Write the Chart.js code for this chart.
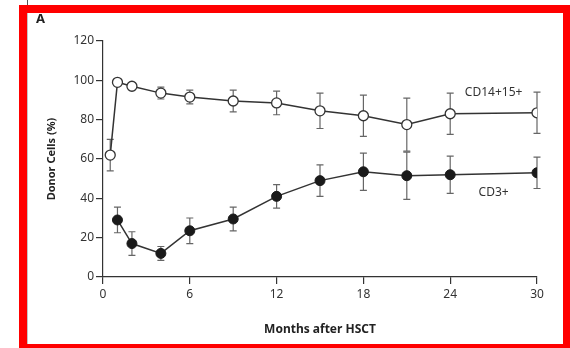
<!DOCTYPE html>
<html>
<head>
<meta charset="utf-8">
<script src="https://cdn.jsdelivr.net/npm/chart.js@4.4.1/dist/chart.umd.min.js"></script>
<style>
  html, body { margin: 0; padding: 0; background: #fff; }
  body { width: 570px; height: 348px; overflow: hidden; position: relative; }
  #frame {
    position: absolute; left: 19px; top: 5px; width: 552px; height: 347px;
    box-sizing: border-box; border: 8px solid #ff0000;
  }
  #innerLine { position: absolute; left: 27px; top: 13px; width: 1px; height: 331px; background: #c4c4c4; }
  #topTick { position: absolute; left: 27px; top: 0; width: 1px; height: 5px; background: #555; }
  #panel {
    position: absolute; left: 36px; top: 9px; font: bold 13px "Noto Sans", sans-serif; color: #222;
  }
  #c { position: absolute; left: 0; top: 0; }
</style>
</head>
<body>
<canvas id="c" width="570" height="348"></canvas>
<div id="frame"></div>
<div id="innerLine"></div>
<div id="topTick"></div>
<div id="panel">A</div>
<script>
// months after transplant, mean donor chimerism (%) and error half-widths
let monthsMyeloid = [0.5, 1, 2, 4, 6, 9, 12, 15, 18, 21, 24, 30];
let myeloidValues = [62, 99, 97, 93.5, 91.5, 89.5, 88.5, 84.5, 82, 77.5, 83, 83.5];
let myeloidErr    = [8, 0, 0, 3, 3.5, 5.5, 6, 9, 10.5, 13.5, 10.5, 10.5];

let monthsT = [1, 2, 4, 6, 9, 12, 15, 18, 21, 24, 30];
let tValues = [29, 17, 12, 23.5, 29.5, 41, 49, 53.5, 51.5, 52, 53];
let tErr    = [6.5, 6, 3.5, 6.5, 6, 6, 8, 9.5, 12, 9.5, 8];

let seriesNames = ["CD14+15+", "CD3+"];

const FONT = '"Noto Sans", sans-serif';
const INK = '#333';

function toPoints(xs, ys) {
  return xs.map((m, i) => ({ x: m, y: ys[i] }));
}

// whiskers go under the markers
const errorBars = {
  id: 'errorBars',
  beforeDatasetsDraw(chart) {
    const ctx = chart.ctx;
    const xs = chart.scales.x, ys = chart.scales.y;
    ctx.save();
    ctx.strokeStyle = '#666';
    ctx.lineWidth = 1.2;
    chart.data.datasets.forEach(ds => {
      ds.data.forEach((p, i) => {
        const e = ds.errors[i];
        if (!e) return;
        const px = xs.getPixelForValue(p.x);
        const top = ys.getPixelForValue(p.y + e);
        const bot = ys.getPixelForValue(p.y - e);
        ctx.beginPath();
        ctx.moveTo(px, top); ctx.lineTo(px, bot);
        ctx.moveTo(px - 3.5, top); ctx.lineTo(px + 3.5, top);
        ctx.moveTo(px - 3.5, bot); ctx.lineTo(px + 3.5, bot);
        ctx.stroke();
      });
    });
    ctx.restore();
  }
};

// series names written beside the right end of each curve
const seriesLabels = {
  id: 'seriesLabels',
  afterDatasetsDraw(chart) {
    const ctx = chart.ctx;
    const xs = chart.scales.x, ys = chart.scales.y;
    const spots = [[27, 94], [27, 42.7]];
    ctx.save();
    ctx.fillStyle = INK;
    ctx.font = '12px ' + FONT;
    ctx.textAlign = 'center';
    ctx.textBaseline = 'middle';
    seriesNames.forEach((name, i) => {
      ctx.fillText(name, xs.getPixelForValue(spots[i][0]), ys.getPixelForValue(spots[i][1]));
    });
    ctx.restore();
  }
};

let ctx = document.getElementById('c');
let myChart = new Chart(ctx, {
  type: 'line',
  data: {
    datasets: [{
      label: seriesNames[0],
      data: toPoints(monthsMyeloid, myeloidValues),
      errors: myeloidErr,
      borderColor: INK,
      borderWidth: 1.5,
      pointRadius: 5,
      pointBorderWidth: 1.3,
      pointBackgroundColor: '#fff',
      pointBorderColor: INK,
      fill: false
    }, {
      label: seriesNames[1],
      data: toPoints(monthsT, tValues),
      errors: tErr,
      borderColor: INK,
      borderWidth: 1.5,
      pointRadius: 5,
      pointBorderWidth: 1,
      pointBackgroundColor: '#1a1a1a',
      pointBorderColor: '#1a1a1a',
      fill: false
    }]
  },
  options: {
    responsive: false,
    animation: false,
    layout: { padding: { left: 40, top: 41, right: 33, bottom: 10 } },
    plugins: { legend: { display: false }, tooltip: { enabled: false } },
    scales: {
      x: {
        type: 'linear', min: 0, max: 30,
        afterFit(s) { s.height = 61; },
        ticks: { stepSize: 6, padding: 3, color: INK, font: { family: FONT, size: 12 }, maxRotation: 0 },
        grid: { drawOnChartArea: false, tickLength: 7, color: INK, lineWidth: 1.2 },
        border: { color: INK, width: 1.2 },
        title: { display: true, text: 'Months after HSCT', color: '#222',
                 font: { family: FONT, size: 12, weight: 'bold' }, padding: { top: 0, bottom: 1 } }
      },
      y: {
        min: 0, max: 120,
        afterFit(s) { s.width = 63; },
        ticks: { stepSize: 20, padding: 2, color: INK, font: { family: FONT, size: 12 } },
        grid: { drawOnChartArea: false, tickLength: 7, color: INK, lineWidth: 1.2 },
        border: { color: INK, width: 1.2 },
        title: { display: true, text: 'Donor Cells (%)', color: '#222',
                 font: { family: FONT, size: 11, weight: 'bold' }, padding: { top: 5, bottom: 0 } }
      }
    }
  },
  plugins: [errorBars, seriesLabels]
});
</script>
</body>
</html>
